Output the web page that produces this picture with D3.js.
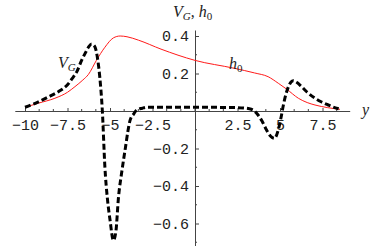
<!DOCTYPE html>
<html>
<head>
<meta charset="utf-8">
<script src="https://cdn.jsdelivr.net/npm/d3@7"></script>
<style>
  body { margin: 0; background: #fff; }
  svg { display: block; }
  .tick-label { font-family: "Liberation Mono", monospace; font-size: 15px; fill: #222; }
  .math { font-family: "Liberation Serif", serif; font-style: italic; font-size: 16px; fill: #222; }
</style>
</head>
<body>
<div id="chart"></div>
<script>
// V_G (dashed black) samples
const vgX = [-10, -9.3, -8.6, -8, -7.5, -7.25, -6.95, -6.67, -6.45, -6.27, -6.08, -5.9, -5.75, -5.6, -5.45,
             -5.3, -5.15, -5.0, -4.8, -4.65, -4.51, -4.3, -4.1, -3.95, -3.82, -3.6, -3.43, -3.1, -2.85,
             0, 2.5, 3.2, 3.5, 3.7, 3.95, 4.2, 4.45, 4.67, 4.9, 5.05, 5.2, 5.35, 5.5, 5.65, 5.78, 6.0, 6.27,
             6.6, 7.06, 7.45, 7.84, 8.1, 8.45];
const vgY = [0.02, 0.045, 0.076, 0.105, 0.14, 0.17, 0.21, 0.27, 0.31, 0.34, 0.357, 0.345, 0.29, 0.18, 0.0,
             -0.3, -0.47, -0.58, -0.69, -0.64, -0.47, -0.32, -0.2, -0.11, -0.05, -0.015, 0.005, 0.015, 0.02,
             0.02, 0.018, 0.012, 0.0, -0.02, -0.055, -0.1, -0.135, -0.146, -0.1, -0.04, 0.032, 0.09, 0.13, 0.155, 0.162, 0.152, 0.13,
             0.1, 0.068, 0.048, 0.032, 0.022, 0.012];

// h0 (solid red) samples
const hX = [-10, -9.2, -8.24, -7.5, -7.06, -6.6, -6.27, -5.8, -5.3, -4.8, -4.4, -4.0, -3.33, -2,
            0, 2.3, 3.5, 4.3, 4.9, 5.4, 6.08, 6.6, 7.06, 7.8, 8.53];
const hY = [0.02, 0.042, 0.068, 0.1, 0.13, 0.165, 0.195, 0.27, 0.34, 0.39, 0.40, 0.396, 0.378, 0.33,
            0.27, 0.228, 0.203, 0.183, 0.148, 0.116, 0.068, 0.045, 0.032, 0.018, 0.009];

const xMajor = [-10, -7.5, -5, -2.5, 2.5, 5, 7.5];
const yMajor = [-0.6, -0.4, -0.2, 0.2, 0.4];

const width = 382, height = 246;
const axisColor = "#444";

const svg = d3.select("#chart").append("svg")
    .attr("width", width)
    .attr("height", height);

const x = d3.scaleLinear().domain([-10.6, 9.1]).range([14.8, 349.7]);
const y = d3.scaleLinear().domain([-0.72, 0.432]).range([246, 30]);

// minor ticks: x every 2.5/3, y every 0.1
const xMinor = [];
for (let v = -10; v <= 9.1; v += 2.5 / 3) xMinor.push(+v.toFixed(4));
const yMinor = [];
for (let v = -0.7; v <= 0.43; v += 0.1) yMinor.push(+v.toFixed(2));

const xAxis = svg.append("g")
    .attr("transform", `translate(0 ${y(0)})`)
    .call(d3.axisBottom(x).tickValues(xMajor).tickSize(-3).tickPadding(8).tickSizeOuter(0)
        .tickFormat(d3.format("")));
xAxis.select(".domain").attr("stroke", axisColor);
xAxis.selectAll(".tick line").attr("stroke", axisColor);
xAxis.selectAll("text").attr("class", "tick-label");
xAxis.attr("font-family", null).attr("font-size", null);
xAxis.selectAll(".minor")
    .data(xMinor.filter(v => !xMajor.some(m => Math.abs(m - v) < 0.01)))
    .join("line")
    .attr("class", "minor")
    .attr("x1", d => x(d)).attr("x2", d => x(d))
    .attr("y1", 0).attr("y2", -2)
    .attr("stroke", axisColor);

const yAxis = svg.append("g")
    .attr("transform", `translate(${x(0)} 0)`)
    .call(d3.axisLeft(y).tickValues(yMajor).tickSize(-4).tickPadding(6).tickSizeOuter(0)
        .tickFormat(d3.format(".1f")));
yAxis.select(".domain").attr("stroke", axisColor);
yAxis.selectAll(".tick line").attr("stroke", axisColor);
yAxis.selectAll("text").attr("class", "tick-label");
yAxis.attr("font-family", null).attr("font-size", null);
yAxis.selectAll(".minor")
    .data(yMinor.filter(v => !yMajor.some(m => Math.abs(m - v) < 0.01) && Math.abs(v) > 0.01))
    .join("line")
    .attr("class", "minor")
    .attr("x1", 0).attr("x2", 2)
    .attr("y1", d => y(d)).attr("y2", d => y(d))
    .attr("stroke", axisColor);

const line = d3.line()
    .x(d => x(d[0]))
    .y(d => y(d[1]))
    .curve(d3.curveMonotoneX);

svg.append("path")
    .datum(d3.zip(hX, hY))
    .attr("fill", "none")
    .attr("stroke", "#ff1a1a")
    .attr("stroke-width", 1)
    .attr("d", line);

svg.append("path")
    .datum(d3.zip(vgX, vgY))
    .attr("fill", "none")
    .attr("stroke", "#000")
    .attr("stroke-width", 3)
    .attr("stroke-dasharray", "6,3")
    .attr("d", line);

// labels
const vgLabel = svg.append("text").attr("class", "math").attr("x", 58).attr("y", 68);
vgLabel.append("tspan").text("V");
vgLabel.append("tspan").attr("font-size", "11px").attr("dy", 3).text("G");

const hLabel = svg.append("text").attr("class", "math").attr("x", 229).attr("y", 69);
hLabel.append("tspan").text("h");
hLabel.append("tspan").attr("font-size", "11px").attr("dy", 3).attr("font-style", "normal").text("0");

const title = svg.append("text").attr("class", "math").attr("x", 173).attr("y", 17);
title.append("tspan").text("V");
title.append("tspan").attr("font-size", "11px").attr("dy", 3).text("G");
title.append("tspan").attr("dy", -3).attr("font-style", "normal").text(", ");
title.append("tspan").text("h");
title.append("tspan").attr("font-size", "11px").attr("dy", 3).attr("font-style", "normal").text("0");

svg.append("text").attr("class", "math").attr("x", 362).attr("y", 115).text("y");
</script>
</body>
</html>
